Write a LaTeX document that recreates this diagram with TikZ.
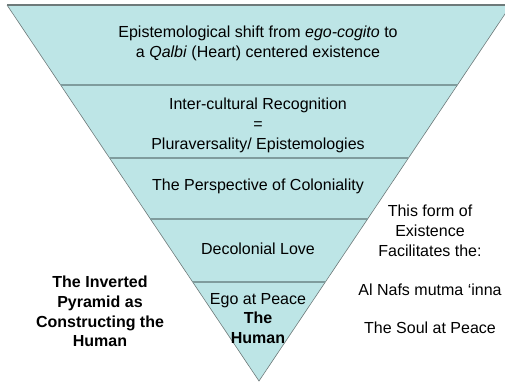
\documentclass[tikz,border=0pt]{standalone}
\usepackage{fontspec}
\setmainfont{Liberation Sans}
\usetikzlibrary{calc}
\usetikzlibrary{positioning}

\definecolor{bandfill}{HTML}{BDE5E6}
\definecolor{bandline}{HTML}{7F9C9D}
\definecolor{edgeline}{HTML}{6E7A7A}

\tikzset{
  lbl/.style={align=center,font=\fontsize{16}{19.8}\selectfont,inner sep=0pt},
  divider/.style={draw=bandline,line width=1.3pt}
}

\begin{document}
\begin{tikzpicture}[x=1pt,y=-1pt]

  \useasboundingbox (0,0) rectangle (505,381);
  \clip (0,0) rectangle (505,381);

  \coordinate (tl) at (7,5);
  \coordinate (tr) at (511,5);
  \coordinate (apex) at (259,381);

  \path [fill=bandfill] (tl) -- (tr) -- (apex) -- cycle;
  \draw [edgeline,line width=0.6pt] (tl) -- (apex) -- (tr);
  \draw [edgeline,line width=1.2pt] (tl) -- (tr);

  \foreach \t in {0.2128,0.4069,0.5691,0.7367}
    \draw [divider] ($(tl)!\t!(apex)$) -- ($(tr)!\t!(apex)$);

  \node [lbl] (shift) at (258,43) {Epistemological shift from \textit{ego-cogito} to\\a \textit{Qalbi} (Heart) centered existence};
  \node [lbl] (recog) at (258,125.5) {Inter-cultural Recognition\\=\\Pluraversality/ Epistemologies};
  \node [lbl] (colon) at (258,186) {The Perspective of Coloniality};
  \node [lbl] (love) at (258,249) {Decolonial Love};
  \node [lbl] (ego) at (258,318.5) {Ego at Peace\\\textbf{The}\\\textbf{Human}};

  \node [lbl] (form) at (430,231) {This form of\\Existence\\Facilitates the:};
  \node [lbl] (nafs) at (430,290) {Al Nafs mutma ‘inna};
  \node [lbl] (soul) at (430,328) {The Soul at Peace};

  \node [lbl,font=\fontsize{16}{19.8}\selectfont\bfseries] (inverted) at (100,311.5) {The Inverted\\Pyramid as\\Constructing the\\Human};

\end{tikzpicture}
\end{document}
